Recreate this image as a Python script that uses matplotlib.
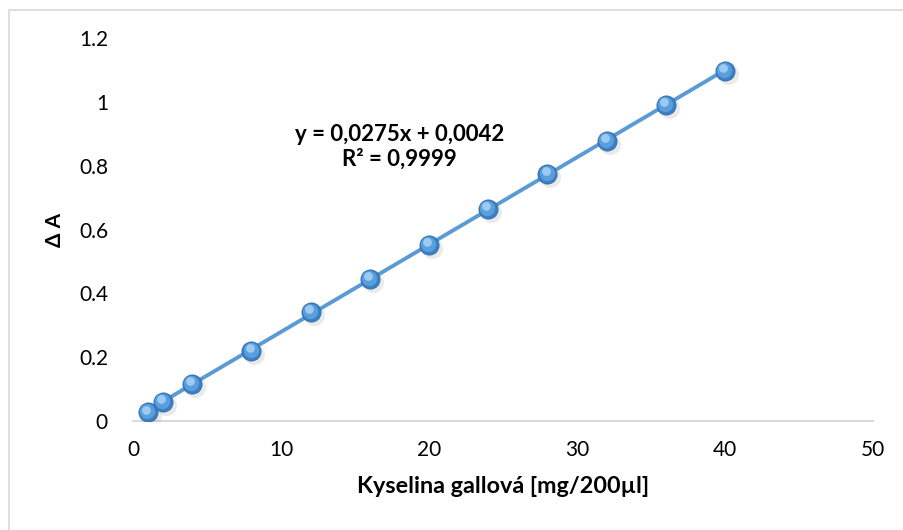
import matplotlib.pyplot as plt
import numpy as np
from matplotlib.patches import Rectangle

# Data
x_vals = [1, 2, 4, 8, 12, 16, 20, 24, 28, 32, 36, 40]
a_vals = [0.028, 0.060, 0.116, 0.220, 0.342, 0.445, 0.552, 0.665, 0.774, 0.878, 0.990, 1.097]
eq_text = "y = 0,0275x + 0,0042\nR² = 0,9999"

plt.rcParams['font.family'] = ['Lato', 'DejaVu Sans']

fig = plt.figure(figsize=(9.04, 5.30), dpi=100)
ax = fig.add_axes([133 / 904, 1 - 421 / 530, 740 / 904, 383 / 530])

# chart border
fig.patches.append(Rectangle((9 / 904, -0.1), 1.2, 1 - 10 / 530 + 0.1, transform=fig.transFigure,
                             fill=False, edgecolor='#d9d9d9', linewidth=1.2))

# trendline
coef = np.polyfit(x_vals, a_vals, 1)
xt = np.array([min(x_vals), max(x_vals)])
ax.plot(xt, np.polyval(coef, xt), color='#5b9bd5', linewidth=2.8, zorder=2)

# sphere-like markers
ax.scatter(np.array(x_vals) + 0.2, np.array(a_vals) - 0.01, s=230, color='#9a9a9a', alpha=0.2,
           linewidths=0, zorder=3)
ax.scatter(x_vals, a_vals, s=190, color='#3a80c4', edgecolors='#2f6eab', linewidths=0.6, zorder=4)
ax.scatter(np.array(x_vals) - 0.05, np.array(a_vals) + 0.003, s=120, color='#5b9edc', linewidths=0, zorder=5)
ax.scatter(np.array(x_vals) - 0.12, np.array(a_vals) + 0.008, s=40, color='#9ccaf0', linewidths=0, zorder=6)

ax.text(18.0, 0.860, eq_text, ha='center', va='center', fontsize=16, fontweight='bold',
        linespacing=1.2)

ax.set_xlim(0, 50)
ax.set_ylim(0, 1.2)
ax.set_xticks([0, 10, 20, 30, 40, 50])
ax.set_yticks([0, 0.2, 0.4, 0.6, 0.8, 1.0, 1.2])
ax.set_yticklabels(['0', '0.2', '0.4', '0.6', '0.8', '1', '1.2'])
ax.tick_params(length=0, labelsize=15, pad=14)
ax.tick_params(axis='y', pad=18)

for s in ['top', 'right', 'left']:
    ax.spines[s].set_visible(False)
ax.spines['bottom'].set_color('#d9d9d9')
ax.spines['bottom'].set_linewidth(1.5)

ax.set_xlabel("Kyselina gallová [mg/200µl]", fontsize=16.8, fontweight='bold', labelpad=11)
ax.set_ylabel("Δ A", fontsize=15, fontweight='bold', labelpad=10)

fig.savefig('out.png', dpi=100)
